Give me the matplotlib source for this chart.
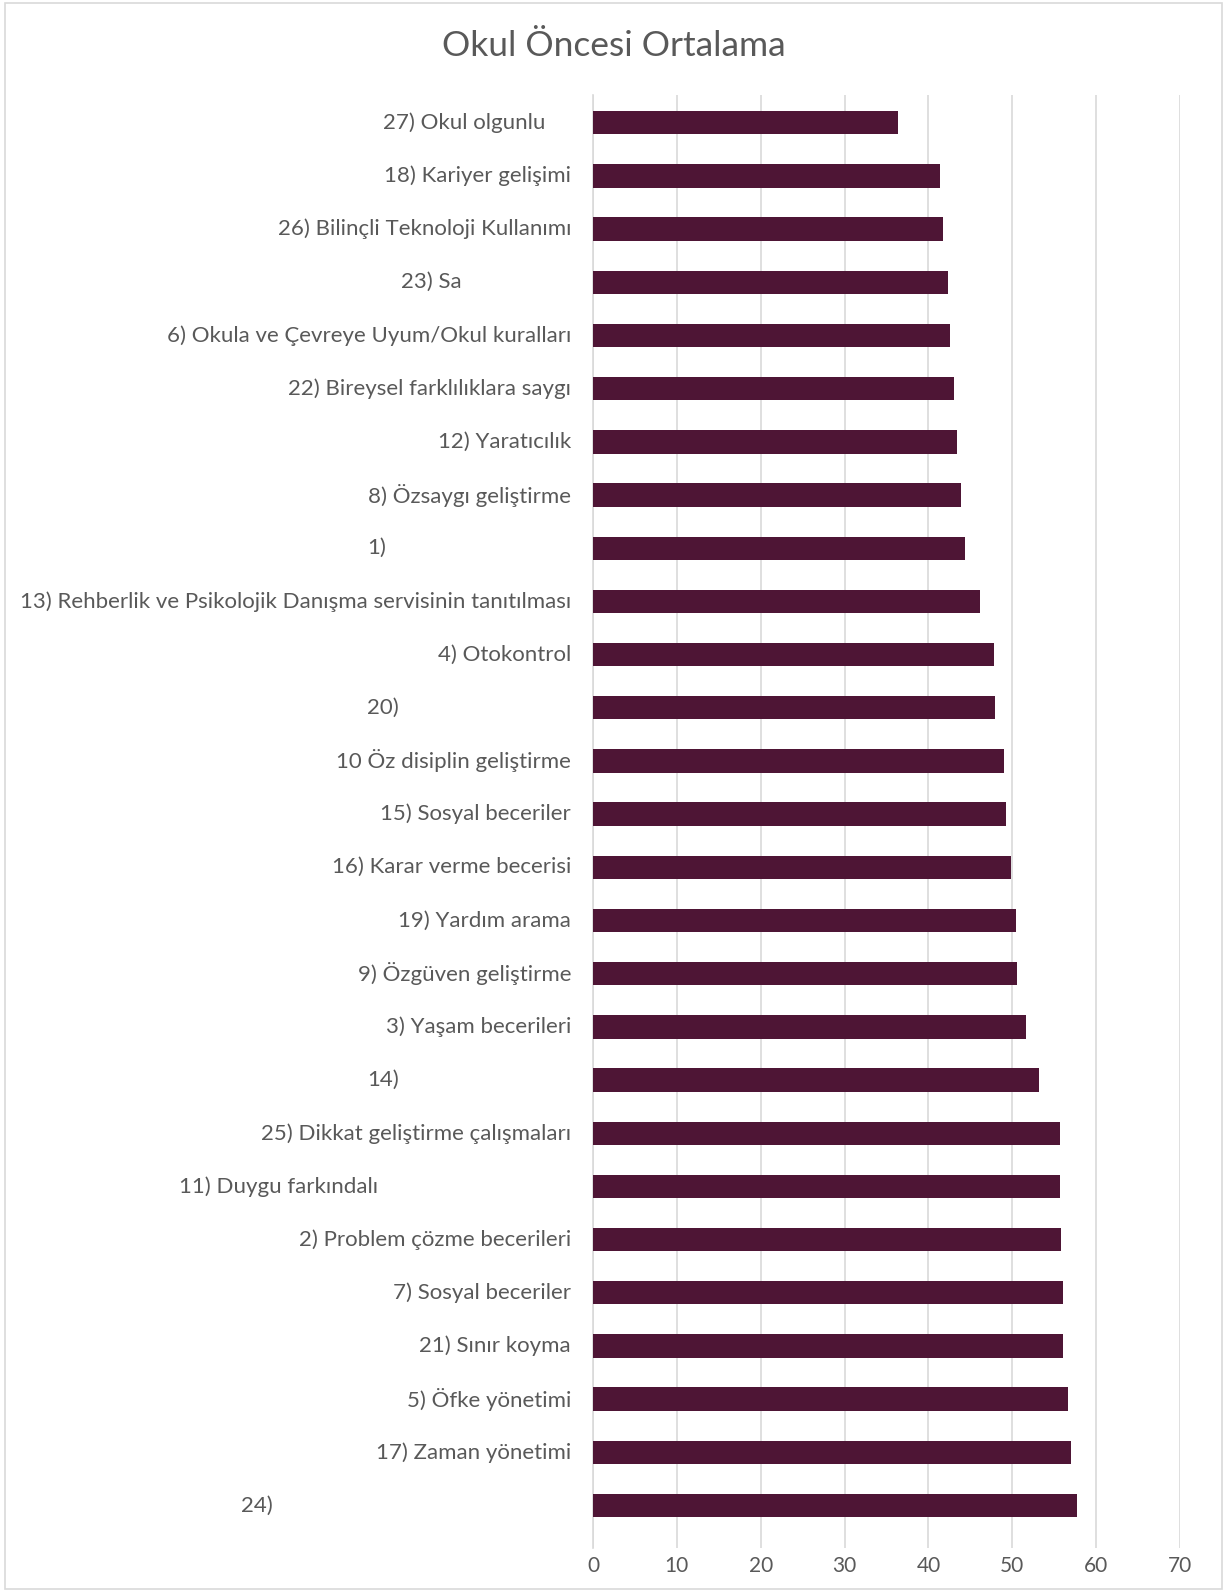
import matplotlib
matplotlib.use("Agg")
import matplotlib.pyplot as plt
from matplotlib.patches import Rectangle
import numpy as np

BAR_COLOR  = "#4E1535"
TEXT_GRAY  = "#595959"
GRID_GRAY  = "#D9D9D9"
FONT       = "Lato"

# categories top -> bottom; trailing spaces kept as in the source sheet
labels = [
    "27) Okul olgunlu      ",
    "18) Kariyer gelişimi",
    "26) Bilinçli Teknoloji Kullanımı",
    "23) Sa" + " " * 26,
    "6) Okula ve Çevreye Uyum/Okul kuralları",
    "22) Bireysel farklılıklara saygı",
    "12) Yaratıcılık",
    "8) Özsaygı geliştirme",
    "1)" + " " * 44,
    "13) Rehberlik ve Psikolojik Danışma servisinin tanıtılması",
    "4) Otokontrol",
    "20)" + " " * 41,
    "10 Öz disiplin geliştirme",
    "15) Sosyal beceriler",
    "16) Karar verme becerisi",
    "19) Yardım arama",
    "9) Özgüven geliştirme",
    "3) Yaşam becerileri",
    "14)" + " " * 41,
    "25) Dikkat geliştirme çalışmaları",
    "11) Duygu farkındalı" + " " * 46,
    "2) Problem çözme becerileri",
    "7) Sosyal beceriler",
    "21) Sınır koyma",
    "5) Öfke yönetimi",
    "17) Zaman yönetimi",
    "24)" + " " * 71,
]
values = [
    36.4, 41.4, 41.7, 42.3, 42.6, 43.0, 43.4, 43.9, 44.4,
    46.1, 47.8, 47.9, 49.0, 49.3, 49.8, 50.4, 50.6, 51.6,
    53.2, 55.7, 55.7, 55.8, 56.0, 56.1, 56.7, 57.0, 57.7,
]
x_ticks = [0, 10, 20, 30, 40, 50, 60, 70]

SPACE_PX = 4.2  # width of one trailing space in the source font

fig = plt.figure(figsize=(12.27, 15.92), dpi=100, facecolor="white")
fig.patches.append(Rectangle((0.004, 0.002), 0.992, 0.996, transform=fig.transFigure,
                             facecolor="none", edgecolor=GRID_GRAY, linewidth=1.2))

ax = fig.add_axes([0.4833, 0.0276, 0.4784, 0.913])
y = np.arange(len(values))
ax.barh(y, values, height=0.44, color=BAR_COLOR, zorder=3)

ax.set_xlim(0, 70)
ax.set_ylim(26.8, -0.53)
ax.set_xticks(x_ticks)
ax.set_xticklabels([str(t) for t in x_ticks], fontsize=15, color=TEXT_GRAY, family=FONT)
ax.tick_params(axis="x", length=0, pad=6)
ax.set_yticks([])
ax.grid(axis="x", color=GRID_GRAY, linewidth=1.2, zorder=0)
for side in ["top", "right", "bottom"]:
    ax.spines[side].set_visible(False)
ax.spines["left"].set_color(GRID_GRAY)
ax.spines["left"].set_linewidth(1.2)

for i, lab in enumerate(labels):
    text = lab.rstrip()
    pad = len(lab) - len(text)
    ax.annotate(text, xy=(0, i), xycoords=("axes fraction", "data"),
                xytext=(-(22 + pad * SPACE_PX), 0), textcoords="offset pixels",
                ha="right", va="center", fontsize=16, color=TEXT_GRAY, family=FONT)

fig.text(0.5, 0.971, "Okul Öncesi Ortalama", ha="center", va="center",
         fontsize=25.5, color=TEXT_GRAY, family=FONT)

fig.savefig("out.png", dpi=100, facecolor="white")
